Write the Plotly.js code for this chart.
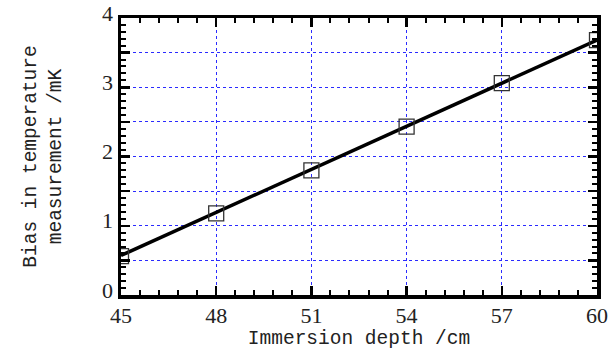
<!DOCTYPE html>
<html>
<head>
<meta charset="utf-8">
<script src="https://cdn.plot.ly/plotly-3.0.1.min.js"></script>
<style>
html,body{margin:0;padding:0;background:#fff;}
#chart{width:610px;height:353px;}
</style>
</head>
<body>
<div id="chart"></div>
<script>
// Data
const depth = [45, 48, 51, 54, 57, 60];
const bias = [0.56, 1.18, 1.80, 2.43, 3.06, 3.68];
const fitDepth = [45, 60];
const fitBias = [0.57, 3.68];

const xTickVals = [45, 48, 51, 54, 57, 60];
const xTickText = ["45", "48", "51", "54", "57", "60"];
const yTickVals = [0, 0.5, 1, 1.5, 2, 2.5, 3, 3.5, 4];
const yTickText = ["0", "", "1", "", "2", "", "3", "", "4"];

const xTitle = "Immersion depth /cm";
const yTitle = "Bias in temperature<br>measurement /mK";

const gridColor = "#2b2bff";
const tickFont = {family: "Liberation Serif, serif", size: 22, color: "#222"};
const titleFont = {family: "Liberation Mono, monospace", size: 19.5, color: "#222"};

const traces = [
  {
    x: fitDepth, y: fitBias, type: "scatter", mode: "lines",
    line: {color: "#000", width: 3.5}, showlegend: false, hoverinfo: "skip"
  },
  {
    x: depth, y: bias, type: "scatter", mode: "markers",
    marker: {symbol: "square-open", size: 15, color: "#333", line: {width: 1.3, color: "#333"}},
    showlegend: false
  }
];

const layout = {
  width: 610, height: 353,
  margin: {l: 121, r: 13, t: 18, b: 58},
  paper_bgcolor: "#fff", plot_bgcolor: "#fff",
  xaxis: {
    range: [45, 60],
    tickmode: "array", tickvals: xTickVals, ticktext: xTickText,
    ticks: "inside", ticklen: 9, tickwidth: 2.5, tickcolor: "#000",
    minor: {dtick: 0.6, tick0: 45, ticks: "inside", ticklen: 5, tickwidth: 2, tickcolor: "#000", showgrid: false},
    showline: true, linecolor: "#000", linewidth: 3.5, mirror: "ticks",
    showgrid: true, gridcolor: gridColor, gridwidth: 1.2, griddash: "dot",
    zeroline: false,
    tickfont: tickFont, ticklabelstandoff: -2,
    title: {text: xTitle, font: titleFont, standoff: 2}
  },
  yaxis: {
    range: [0, 4],
    tickmode: "array", tickvals: yTickVals, ticktext: yTickText,
    ticks: "inside", ticklen: 9, tickwidth: 2.5, tickcolor: "#000",
    minor: {dtick: 0.1, tick0: 0, ticks: "inside", ticklen: 5, tickwidth: 2, tickcolor: "#000", showgrid: false},
    showline: true, linecolor: "#000", linewidth: 3.5, mirror: "ticks",
    showgrid: true, gridcolor: gridColor, gridwidth: 1.2, griddash: "dot",
    zeroline: false,
    tickfont: tickFont, ticklabelshift: -5,
    title: {text: yTitle, font: titleFont, standoff: 36}
  }
};

Plotly.newPlot("chart", traces, layout, {staticPlot: true, displayModeBar: false});
</script>
</body>
</html>
